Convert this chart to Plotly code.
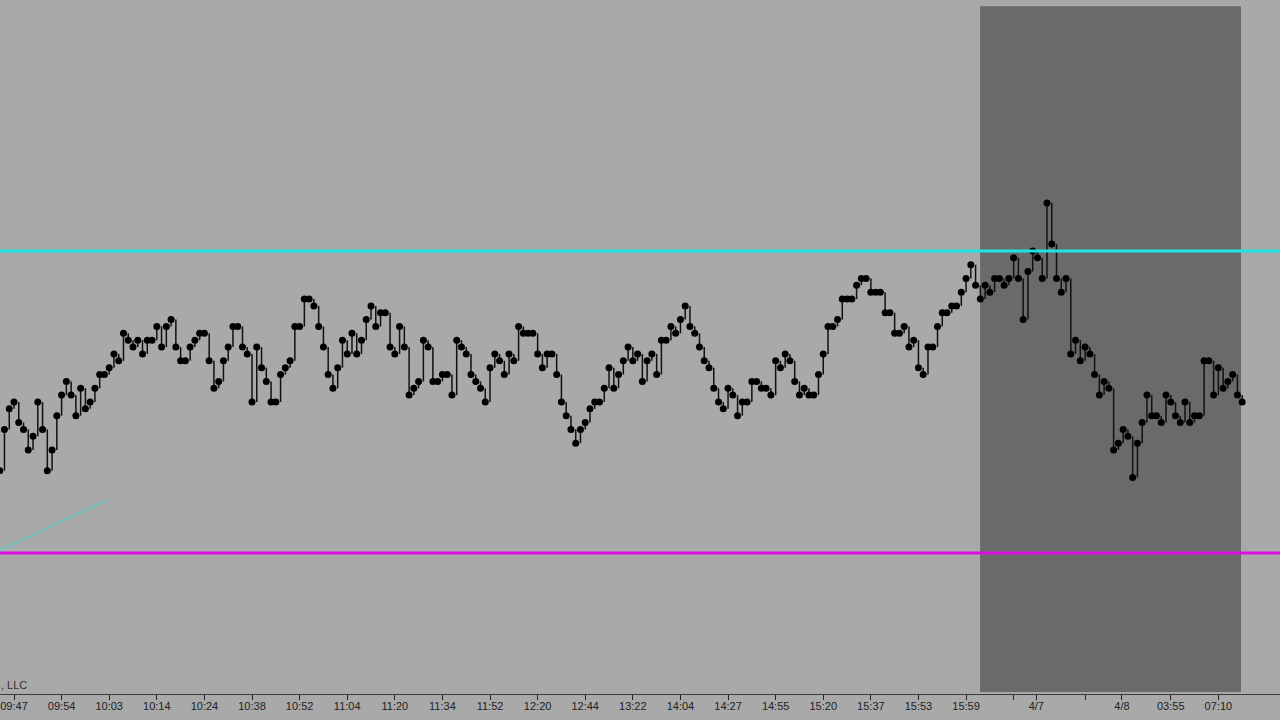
import plotly.graph_objects as go

# ---------------- data ----------------
closes = [
    33412,33418,33421,33422,33419,33418,33415,33417,33422,33418,33412,33415,33420,33423,33425,33423,33420,33424,33421,33422,33424,
    33426,33426,33427,33429,33428,33432,33431,33430,33431,33429,33431,33431,33433,33430,33433,33434,33430,33428,33428,33430,33431,
    33432,33432,33428,33424,33425,33428,33430,33433,33433,33430,33429,33422,33430,33427,33425,33422,33422,33426,33427,33428,33433,
    33433,33437,33437,33436,33433,33430,33426,33424,33427,33431,33429,33432,33429,33431,33434,33436,33433,33435,33435,33430,33429,
    33433,33430,33423,33424,33425,33431,33430,33425,33425,33426,33426,33423,33431,33430,33429,33426,33425,33424,33422,33427,33429,
    33428,33426,33429,33428,33433,33432,33432,33432,33429,33427,33429,33429,33426,33422,33420,33418,33416,33418,33419,33421,33422,
    33422,33424,33427,33424,33426,33428,33430,33428,33429,33425,33428,33429,33426,33431,33431,33433,33432,33434,33436,33433,33432,
    33430,33428,33427,33424,33422,33421,33424,33423,33420,33422,33422,33425,33425,33424,33424,33423,33428,33427,33429,33428,33425,
    33423,33424,33423,33423,33426,33429,33433,33433,33434,33437,33437,33437,33439,33440,33440,33438,33438,33438,33435,33435,33432,
    33432,33433,33430,33431,33427,33426,33430,33430,33433,33435,33435,33436,33436,33438,33440,33442,33439,33437,33439,33438,33440,
    33440,33439,33440,33443,33440,33434,33441,33444,33443,33440,33451,33445,33440,33438,33440,33429,33431,33428,33430,33429,33426,
    33423,33425,33424,33415,33416,33418,33417,33411,33416,33419,33423,33420,33420,33419,33423,33422,33420,33419,33422,33419,33420,
    33420,33428,33428,33423,33427,33424,33425,33426,33423,33422,
]
bar_index = list(range(-6, -6 + 2 * len(closes), 2))

tick_positions = [0, 20, 40, 60, 80, 100, 120, 140, 160, 180, 200, 220, 240, 260,
                  280, 300, 320, 340, 360, 380, 400, 420, 429.5, 450, 465.5, 486, 506]
tick_labels = ["09:47", "09:54", "10:03", "10:14", "10:24", "10:38", "10:52", "11:04",
               "11:20", "11:34", "11:52", "12:20", "12:44", "13:22", "14:04", "14:27",
               "14:55", "15:20", "15:37", "15:53", "15:59", "", "4/7", "", "4/8",
               "03:55", "07:10"]

resistance_level = 33444
support_level = 33400
session_shade = [405.9, 515.5]          # bar-index span of the shaded session
trend_x = [-5.9, 39.1]
trend_y = [33400.4, 33407.7]

# ---------------- figure ----------------
fig = go.Figure()

# vertical segments between consecutive closes
seg_x, seg_y = [], []
for i in range(1, len(closes)):
    seg_x += [bar_index[i], bar_index[i], None]
    seg_y += [closes[i - 1], closes[i], None]

fig.add_trace(go.Scatter(x=seg_x, y=seg_y, mode="lines",
                         line=dict(color="#111111", width=1.5),
                         hoverinfo="skip", showlegend=False))
fig.add_trace(go.Scatter(x=bar_index, y=closes, mode="markers",
                         marker=dict(color="#000000", size=7),
                         showlegend=False))

# shaded session
fig.add_shape(type="rect", xref="x", yref="paper",
              x0=session_shade[0], x1=session_shade[1], y0=0.003, y1=0.991,
              fillcolor="#6a6a6a", line=dict(width=0), layer="below")

# horizontal levels
fig.add_shape(type="line", xref="paper", yref="y", x0=0, x1=1,
              y0=resistance_level, y1=resistance_level,
              line=dict(color="#22e3e3", width=3), layer="above")
fig.add_shape(type="line", xref="paper", yref="y", x0=0, x1=1,
              y0=support_level, y1=support_level,
              line=dict(color="#dd10dd", width=3), layer="above")

# faint trend line
fig.add_shape(type="line", xref="x", yref="y",
              x0=trend_x[0], x1=trend_x[1], y0=trend_y[0], y1=trend_y[1],
              line=dict(color="#66c8c8", width=2), opacity=0.8)

fig.add_annotation(text=", LLC", xref="paper", yref="paper",
                   x=0.0, y=0.0, xanchor="left", yanchor="bottom",
                   xshift=-1, yshift=1, showarrow=False,
                   font=dict(family="Liberation Sans, Arial", size=11, color="#333333"))

fig.update_layout(
    width=1280, height=720,
    margin=dict(l=0, r=0, t=0, b=26),
    paper_bgcolor="#a9a9a9", plot_bgcolor="#a9a9a9",
    showlegend=False,
    xaxis=dict(range=[-5.88, 531.9], showgrid=False, zeroline=False,
               showline=True, linecolor="#3a3a3a", linewidth=1,
               ticks="outside", ticklen=5, tickcolor="#222222",
               ticklabelstandoff=-3,
               tickvals=tick_positions, ticktext=tick_labels,
               tickfont=dict(family="Liberation Sans, Arial", size=11, color="#222222")),
    yaxis=dict(range=[33379.46, 33480.56], visible=False, showgrid=False, zeroline=False),
)

fig.write_html("out.html", config={"displayModeBar": False},
               post_script="document.body.style.margin='0';document.body.style.background='#a9a9a9';document.body.style.overflow='hidden';")
